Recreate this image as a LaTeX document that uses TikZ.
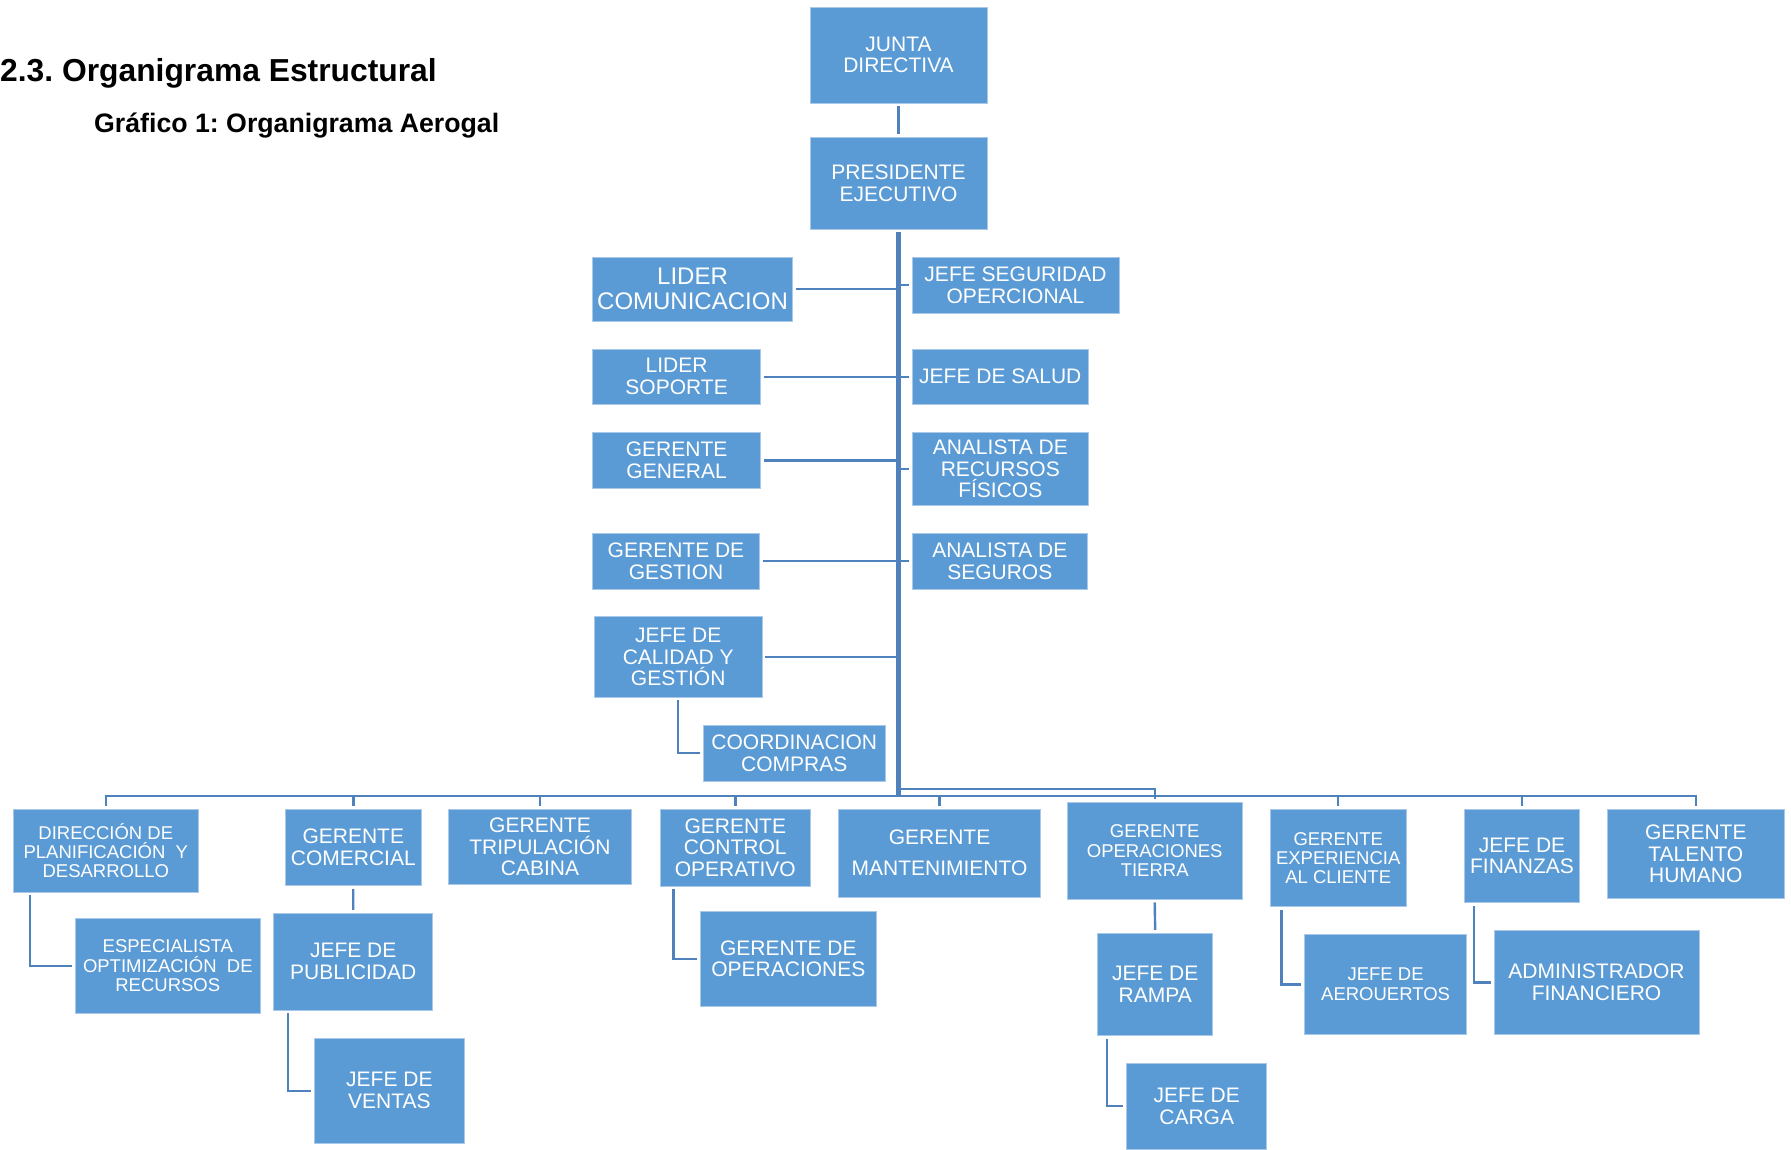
\documentclass[tikz,border=0pt]{standalone}
\usepackage{fontspec}
\setmainfont{Liberation Sans}
\definecolor{boxblue}{RGB}{91,155,213}
\definecolor{boxedge}{RGB}{170,200,232}
\definecolor{lineblue}{RGB}{79,129,189}
\frenchspacing
\begin{document}
\begin{tikzpicture}[x=1pt,y=-1pt,
  box/.style={rectangle, fill=boxblue, draw=boxedge, line width=0.8pt, text=white, align=center, inner sep=0pt, font=\fontsize{21}{21.7}\selectfont},
  small/.style={font=\fontsize{18.5}{19.3}\selectfont},
  conn/.style={draw=lineblue, line width=2.4pt},
  trunk/.style={draw=lineblue, line width=4.2pt}]
\useasboundingbox (0,0) rectangle (1791,1149);

% titles
\node[anchor=base west, inner sep=0pt, font=\bfseries\fontsize{31.8}{36}\selectfont] (title) at (0,81.7) {2.3. Organigrama Estructural};
\node[anchor=base west, inner sep=0pt, font=\bfseries\fontsize{26.7}{30}\selectfont] (subtitle) at (94,132.7) {Gráfico 1: Organigrama Aerogal};

% top
\node[box, minimum width=177pt, minimum height=96pt] (junta) at (898.5,55) {JUNTA\\DIRECTIVA};
\node[box, minimum width=177pt, minimum height=92pt] (pres) at (898.5,183) {PRESIDENTE\\EJECUTIVO};

% side staff
\node[box, font=\fontsize{24}{25}\selectfont, minimum width=200pt, minimum height=64pt] (lcom) at (692.5,289) {LIDER\\COMUNICACION};
\node[box, minimum width=207pt, minimum height=56pt] (jseg) at (1015.5,285) {JEFE SEGURIDAD\\OPERCIONAL};
\node[box, minimum width=168pt, minimum height=55pt] (lsop) at (676.6,376.7) {LIDER\\SOPORTE};
\node[box, minimum width=176.6pt, minimum height=55pt] (jsal) at (1000.3,376.7) {JEFE DE SALUD};
\node[box, minimum width=168pt, minimum height=55.6pt] (ggen) at (676.6,460.5) {GERENTE\\GENERAL};
\node[box, minimum width=176.6pt, minimum height=72.6pt] (arf) at (1000.3,469) {ANALISTA DE\\RECURSOS\\FÍSICOS};
\node[box, minimum width=167pt, minimum height=55.7pt] (gges) at (676,561.2) {GERENTE DE\\GESTION};
\node[box, minimum width=175.5pt, minimum height=55.7pt] (aseg) at (999.8,561.2) {ANALISTA DE\\SEGUROS};
\node[box, minimum width=167.7pt, minimum height=80.3pt] (jcal) at (678.2,656.9) {JEFE DE\\CALIDAD Y\\GESTIÓN};
\node[box, minimum width=181.4pt, minimum height=55.7pt] (ccomp) at (794.3,753.2) {COORDINACION\\COMPRAS};

% bottom row
\node[box, small, minimum width=184.8pt, minimum height=82.7pt] (dir) at (105.8,850.7) {DIRECCIÓN DE\\PLANIFICACIÓN\ \ Y\\DESARROLLO};
\node[box, small, minimum width=185.6pt, minimum height=95.3pt] (esp) at (167.8,965.7) {ESPECIALISTA\\OPTIMIZACIÓN\ \ DE\\RECURSOS};
\node[box, minimum width=135.5pt, minimum height=76.4pt] (gcom) at (353.3,847.5) {GERENTE\\COMERCIAL};
\node[box, minimum width=159.2pt, minimum height=96.7pt] (jpub) at (353.2,961.7) {JEFE DE\\PUBLICIDAD};
\node[box, minimum width=149.6pt, minimum height=105.3pt] (jven) at (389.4,1090.7) {JEFE DE\\VENTAS};
\node[box, minimum width=183.6pt, minimum height=75pt] (gtrip) at (540,846.8) {GERENTE\\TRIPULACIÓN\\CABINA};
\node[box, minimum width=150pt, minimum height=76.7pt] (gcon) at (735.3,847.7) {GERENTE\\CONTROL\\OPERATIVO};
\node[box, minimum width=176.8pt, minimum height=95.7pt] (gope) at (788.4,958.8) {GERENTE DE\\OPERACIONES};
\node[box, minimum width=202.2pt, minimum height=87.7pt] (gman) at (939.5,853.2) {GERENTE\\[9.3pt]MANTENIMIENTO};
\node[box, small, minimum width=174.6pt, minimum height=96.7pt] (gtie) at (1154.7,850.7) {GERENTE\\OPERACIONES\\TIERRA};
\node[box, minimum width=114.7pt, minimum height=102pt] (jram) at (1155.2,984.3) {JEFE DE\\RAMPA};
\node[box, minimum width=139.7pt, minimum height=85.7pt] (jcar) at (1196.7,1106.2) {JEFE DE\\CARGA};
\node[box, small, minimum width=136.3pt, minimum height=97.4pt] (gexp) at (1338.2,858) {GERENTE\\EXPERIENCIA\\AL CLIENTE};
\node[box, small, minimum width=162.2pt, minimum height=100.7pt] (jaer) at (1385.6,984.3) {JEFE DE\\AEROUERTOS};
\node[box, minimum width=115pt, minimum height=93pt] (jfin) at (1522,855.8) {JEFE DE\\FINANZAS};
\node[box, minimum width=205pt, minimum height=104.4pt] (admf) at (1596.5,982.5) {ADMINISTRADOR\\FINANCIERO};
\node[box, minimum width=176.5pt, minimum height=89pt] (gtal) at (1695.8,853.8) {GERENTE\\TALENTO\\HUMANO};

% connectors
\coordinate (bus) at (900,796);
\coordinate (tb) at (900,789);
\draw[conn, shorten <=3pt, shorten >=3pt] (junta.south) -- (pres.north);
\draw[trunk, shorten <=3pt] (pres.south) -- (pres.south |- bus);
\foreach \n in {lcom,lsop,ggen,gges,jcal}
  \draw[conn, shorten <=3pt] (\n.east) -- (\n.east -| pres.south);
\foreach \n in {jseg,jsal,arf,aseg}
  \draw[conn, shorten >=3pt] (\n.west -| pres.south) -- (\n.west);
\draw[conn, shorten <=3pt, shorten >=3pt] (dir.north) |- (bus) -| (gtal.north);
\foreach \n in {gcom,gtrip,gcon,gman,gexp,jfin}
  \draw[conn, shorten >=3pt] (\n.north |- bus) -- (\n.north);
\draw[conn, shorten >=3pt] (pres.south |- tb) -| (gtie.north);
\draw[conn, shorten <=3pt, shorten >=3pt] (jcal.south) |- (ccomp.west);
\draw[conn, shorten <=3pt, shorten >=3pt] ([xshift=17.2pt]dir.south west) |- (esp.west);
\draw[conn, shorten <=3pt, shorten >=3pt] (gcom.south) -- (jpub.north);
\draw[conn, shorten <=3pt, shorten >=3pt] ([xshift=14.6pt]jpub.south west) |- (jven.west);
\draw[conn, shorten <=3pt, shorten >=3pt] ([xshift=13.7pt]gcon.south west) |- (gope.west);
\draw[conn, shorten <=3pt, shorten >=3pt] (gtie.south) -- (jram.north);
\draw[conn, shorten <=3pt, shorten >=3pt] ([xshift=9.8pt]jram.south west) |- (jcar.west);
\draw[conn, shorten <=3pt, shorten >=3pt] ([xshift=12pt]gexp.south west) |- (jaer.west);
\draw[conn, shorten <=3pt, shorten >=3pt] ([xshift=10pt]jfin.south west) |- (admf.west);
\end{tikzpicture}
\end{document}
